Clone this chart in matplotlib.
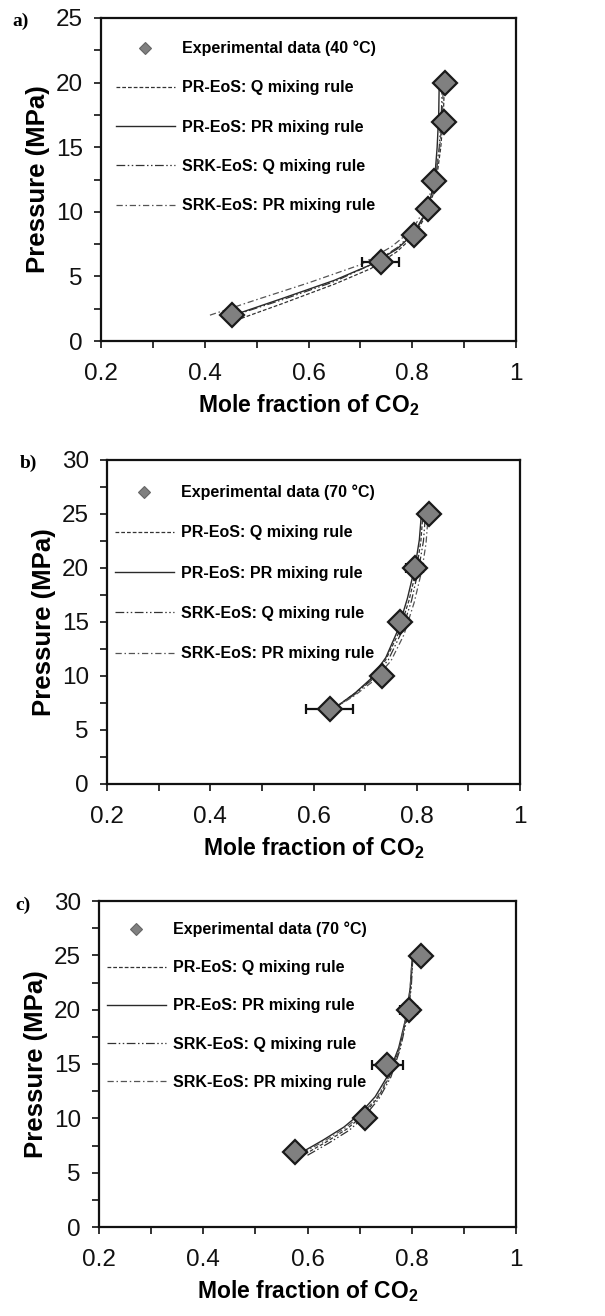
import matplotlib
matplotlib.use('Agg')
import matplotlib.pyplot as plt
from matplotlib.ticker import MultipleLocator, FuncFormatter

plt.rcParams['font.family'] = ['Liberation Sans', 'DejaVu Sans']
plt.rcParams['mathtext.fontset'] = 'custom'
plt.rcParams['mathtext.bf'] = 'Liberation Sans:bold'

# ---- panel a: 40 C ----
exp_x_a = [0.453, 0.739, 0.804, 0.831, 0.842, 0.862, 0.864]
exp_y_a = [2.05, 6.15, 8.2, 10.25, 12.4, 16.95, 19.95]
exp_err_a = [0, 0.036, 0, 0, 0, 0, 0]

prq_x_a = [0.46, 0.55, 0.65, 0.72, 0.77, 0.805, 0.830, 0.845, 0.855, 0.860, 0.862]
prq_y_a = [1.6, 2.9, 4.4, 5.6, 6.9, 8.2, 10.0, 12.0, 15.0, 17.5, 20.0]
prpr_x_a = [0.455, 0.55, 0.65, 0.72, 0.77, 0.805, 0.830, 0.843, 0.848, 0.851, 0.852]
prpr_y_a = [2.0, 3.3, 4.7, 5.9, 7.1, 8.4, 10.2, 12.4, 15.0, 17.5, 20.0]
srkq_x_a = [0.45, 0.55, 0.65, 0.72, 0.77, 0.805, 0.832, 0.845, 0.852, 0.856, 0.858]
srkq_y_a = [1.9, 3.2, 4.6, 5.9, 7.2, 8.5, 10.4, 12.5, 15.0, 17.5, 20.0]
srkpr_x_a = [0.41, 0.50, 0.60, 0.70, 0.76, 0.80, 0.828, 0.843, 0.853, 0.858, 0.860]
srkpr_y_a = [2.0, 3.2, 4.5, 5.9, 7.3, 8.6, 10.5, 12.6, 15.0, 17.5, 20.0]

# ---- panel b: 70 C ----
exp_x_b = [0.631, 0.733, 0.768, 0.796, 0.824]
exp_y_b = [6.9, 10.0, 15.0, 20.0, 25.0]
exp_err_b = [0.045, 0.008, 0.005, 0.016, 0.012]

prq_x_b = [0.64, 0.68, 0.71, 0.74, 0.765, 0.785, 0.800, 0.808, 0.812]
prq_y_b = [7.0, 8.4, 9.6, 11.5, 14.0, 17.0, 20.0, 22.5, 25.0]
prpr_x_b = [0.64, 0.68, 0.71, 0.74, 0.763, 0.782, 0.797, 0.805, 0.809]
prpr_y_b = [7.0, 8.4, 9.7, 11.7, 14.2, 17.2, 20.2, 22.6, 25.0]
srkq_x_b = [0.64, 0.68, 0.712, 0.745, 0.770, 0.790, 0.804, 0.813, 0.817]
srkq_y_b = [7.0, 8.3, 9.6, 11.5, 14.0, 17.0, 20.0, 22.5, 25.0]
srkpr_x_b = [0.64, 0.68, 0.715, 0.750, 0.775, 0.795, 0.810, 0.818, 0.822]
srkpr_y_b = [7.0, 8.2, 9.5, 11.4, 13.8, 16.8, 19.8, 22.3, 24.8]

# ---- panel c: 70 C ----
exp_x_c = [0.576, 0.711, 0.753, 0.794, 0.817]
exp_y_c = [6.9, 10.0, 14.95, 19.95, 24.9]
exp_err_c = [0.01, 0, 0.03, 0.016, 0]

prq_x_c = [0.595, 0.635, 0.675, 0.705, 0.735, 0.758, 0.777, 0.791, 0.798, 0.802]
prq_y_c = [6.7, 7.8, 9.0, 10.2, 11.9, 13.9, 16.5, 19.5, 22.0, 24.8]
prpr_x_c = [0.59, 0.63, 0.67, 0.70, 0.73, 0.755, 0.775, 0.790, 0.797, 0.801]
prpr_y_c = [6.9, 8.0, 9.2, 10.4, 12.0, 14.0, 16.5, 19.5, 22.0, 24.8]
srkq_x_c = [0.60, 0.64, 0.68, 0.708, 0.737, 0.760, 0.778, 0.792, 0.799, 0.802]
srkq_y_c = [6.6, 7.7, 8.9, 10.1, 11.8, 13.8, 16.4, 19.4, 22.0, 24.7]
srkpr_x_c = [0.59, 0.632, 0.672, 0.703, 0.733, 0.757, 0.776, 0.790, 0.797, 0.801]
srkpr_y_c = [6.8, 7.9, 9.1, 10.3, 11.9, 13.9, 16.4, 19.5, 22.0, 24.8]

model_labels = ['PR-EoS: Q mixing rule', 'PR-EoS: PR mixing rule',
                'SRK-EoS: Q mixing rule', 'SRK-EoS: PR mixing rule']

styles = [
    dict(color='#333333', lw=0.9, ls=(0, (3, 1.6))),
    dict(color='#2a2a2a', lw=1.0, ls='-'),
    dict(color='#333333', lw=0.9, ls=(0, (7, 2, 1.2, 2, 1.2, 2))),
    dict(color='#555555', lw=0.9, ls=(0, (5, 2.2, 1.2, 2.2))),
]

W, H = 605, 1316
fig = plt.figure(figsize=(W / 100, H / 100), dpi=100)


def px_rect(left, right, top, bottom):
    return [left / W, 1 - bottom / H, (right - left) / W, (bottom - top) / H]


def panel(rect, tag, tag_xy, ymax, exp_x, exp_y, exp_err, models, temp, leg_xy, spacing):
    ax = fig.add_axes(rect)
    for (mx, my), st in zip(models, styles):
        ax.plot(mx, my, zorder=2, **st)
    ax.errorbar(exp_x, exp_y, xerr=exp_err, fmt='none', ecolor='#111111',
                elinewidth=1.6, capsize=3.5, capthick=1.6, zorder=3)
    ax.plot(exp_x, exp_y, ls='none', marker='D', ms=12, mfc='#808080',
            mec='#1a1a1a', mew=1.6, zorder=4)

    ax.set_xlim(0.2, 1.0)
    ax.set_ylim(0, ymax)
    ax.xaxis.set_major_locator(MultipleLocator(0.2))
    ax.xaxis.set_minor_locator(MultipleLocator(0.1))
    ax.yaxis.set_major_locator(MultipleLocator(5))
    ax.yaxis.set_minor_locator(MultipleLocator(2.5))
    ax.xaxis.set_major_formatter(FuncFormatter(
        lambda v, p: '1' if abs(v - 1) < 1e-9 else '%.1f' % v))
    ax.tick_params(which='both', direction='out', length=5, width=1.2, colors='#111111')
    ax.tick_params(axis='x', which='major', labelsize=17.5, pad=11)
    ax.tick_params(axis='y', which='major', labelsize=17.5, pad=8)
    for s in ax.spines.values():
        s.set_linewidth(1.6)
        s.set_color('#111111')

    ax.set_xlabel('Mole fraction of CO$_\\mathbf{2}$', fontsize=16.5, fontweight='bold',
                  labelpad=5)
    ax.set_ylabel('Pressure (MPa)', fontsize=18.5, fontweight='bold', labelpad=4)

    h_exp, = ax.plot([], [], ls='none', marker='D', ms=6, mfc='#808080', mec='#666666', mew=0.8)
    h_lines = [ax.plot([], [], **st)[0] for st in styles]
    ax.legend([h_exp] + h_lines, ['Experimental data (%s °C)' % temp] + model_labels,
              loc='upper left', bbox_to_anchor=leg_xy, frameon=False,
              prop=dict(weight='bold', size=11.5),
              handlelength=3.7, handletextpad=0.45, labelspacing=spacing,
              borderpad=0, borderaxespad=0)

    fig.text(tag_xy[0] / W, 1 - tag_xy[1] / H, tag, family='Liberation Serif',
             fontweight='bold', fontsize=14, va='top', ha='left')
    return ax


panel(px_rect(101, 516, 18, 341), 'a)', (12, 13), 25, exp_x_a, exp_y_a, exp_err_a,
      [(prq_x_a, prq_y_a), (prpr_x_a, prpr_y_a), (srkq_x_a, srkq_y_a), (srkpr_x_a, srkpr_y_a)],
      40, (0.036, 0.930), 1.52)
panel(px_rect(107, 520, 460, 784), 'b)', (20, 455), 30, exp_x_b, exp_y_b, exp_err_b,
      [(prq_x_b, prq_y_b), (prpr_x_b, prpr_y_b), (srkq_x_b, srkq_y_b), (srkpr_x_b, srkpr_y_b)],
      70, (0.019, 0.924), 1.58)
panel(px_rect(99, 516, 901, 1227), 'c)', (15, 897), 30, exp_x_c, exp_y_c, exp_err_c,
      [(prq_x_c, prq_y_c), (prpr_x_c, prpr_y_c), (srkq_x_c, srkq_y_c), (srkpr_x_c, srkpr_y_c)],
      70, (0.019, 0.937), 1.45)

fig.savefig('out.png', dpi=100)
